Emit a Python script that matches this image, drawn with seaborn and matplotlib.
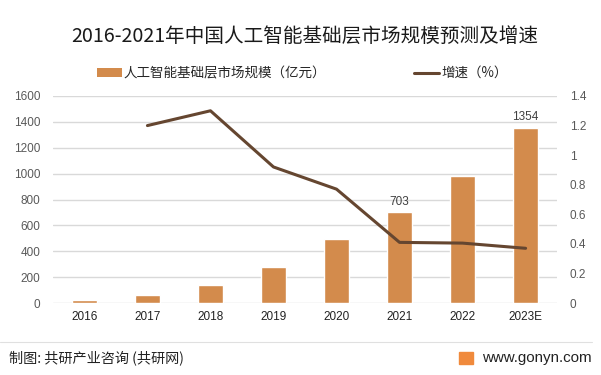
import matplotlib
matplotlib.use("Agg")
import matplotlib.pyplot as plt
import seaborn as sns
import numpy as np
import pandas as pd
from matplotlib.lines import Line2D
from matplotlib.patches import Patch, Rectangle

years = ["2016", "2017", "2018", "2019", "2020", "2021", "2022", "2023E"]
market_size = [26, 64, 141, 281, 497, 703, 984, 1354]
growth = [None, 1.20, 1.30, 0.92, 0.77, 0.41, 0.405, 0.37]
label_years = ["2021", "2023E"]

bar_color = "#D38B4C"
line_color = "#654630"

sns.set_theme(style="white")
plt.rcParams['font.family'] = ['Noto Sans CJK SC', 'DejaVu Sans']

fig = plt.figure(figsize=(6.01, 3.75), dpi=100)
ax = fig.add_axes([0.088, 0.192, 0.839, 0.552])

df = pd.DataFrame({"year": years, "size": market_size})
sns.barplot(data=df, x="year", y="size", color=bar_color, width=0.4, ax=ax,
            saturation=1, zorder=3)
ax.set_ylim(0, 1600)
ax.set_yticks(np.arange(0, 1601, 200))
ax.set_xlim(-0.5, len(years) - 0.5)
ax.grid(axis="y", color="#D9D9D9", linewidth=1, zorder=0)
ax.set_xlabel("")
ax.set_ylabel("")
for s in ax.spines.values():
    s.set_visible(False)
ax.tick_params(axis="y", length=0, labelsize=8.5, labelcolor="#595959", pad=9)
ax.tick_params(axis="x", length=0, labelsize=8.5, labelcolor="#222222", pad=6)
for lbl in ax.get_yticklabels() + ax.get_xticklabels():
    lbl.set_family(['Liberation Sans', 'DejaVu Sans'])

for i, (y, v) in enumerate(zip(years, market_size)):
    if y in label_years:
        ax.text(i, v + 35, str(v), ha="center", va="bottom", fontsize=8.5,
                color="#404040", family=['Liberation Sans', 'DejaVu Sans'])

ax2 = ax.twinx()
gdf = pd.DataFrame({"pos": np.arange(len(years)), "growth": growth}).dropna()
sns.lineplot(data=gdf, x="pos", y="growth", color=line_color, linewidth=2.2,
             ax=ax2, zorder=4)
ax2.set_ylim(0, 1.4)
ax2.set_yticks(np.arange(0, 1.41, 0.2))
ax2.set_yticklabels(["0", "0.2", "0.4", "0.6", "0.8", "1", "1.2", "1.4"])
ax2.set_xlim(-0.5, len(years) - 0.5)
ax2.set_ylabel("")
ax2.set_xlabel("")
for s in ax2.spines.values():
    s.set_visible(False)
ax2.tick_params(axis="y", length=0, labelsize=8.5, labelcolor="#595959", pad=9)
for lbl in ax2.get_yticklabels():
    lbl.set_family(['Liberation Sans', 'DejaVu Sans'])

fig.text(0.507, 0.904, "2016-2021年中国人工智能基础层市场规模预测及增速",
         ha="center", va="center", fontsize=14.1, color="#1a1a1a")

handles = [Patch(facecolor=bar_color, edgecolor="none"),
           Line2D([0], [0], color=line_color, linewidth=2.2)]
fig.legend(handles, ["人工智能基础层市场规模（亿元）", "增速（%）"],
           loc="center left", bbox_to_anchor=(0.161, 0.805), ncol=2, frameon=False,
           fontsize=9.75, handlelength=1.85, handleheight=0.6, columnspacing=6.5,
           handletextpad=0.15, borderpad=0, borderaxespad=0)

fig.add_artist(Line2D([0.0, 0.985], [0.088, 0.088], color="#E0E0E0", linewidth=0.8,
                      transform=fig.transFigure))
fig.text(0.015, 0.045, "制图: 共研产业咨询 (共研网)", ha="left", va="center",
         fontsize=10.2, color="#222222")
fig.text(0.802, 0.045, "www.gonyn.com", ha="left", va="center",
         fontsize=10.9, color="#222222", family=['Liberation Sans', 'DejaVu Sans'])
fig.add_artist(Rectangle((0.764, 0.030), 0.023, 0.032, color="#F08A3C",
                         transform=fig.transFigure))

fig.savefig("out.png", dpi=100)
